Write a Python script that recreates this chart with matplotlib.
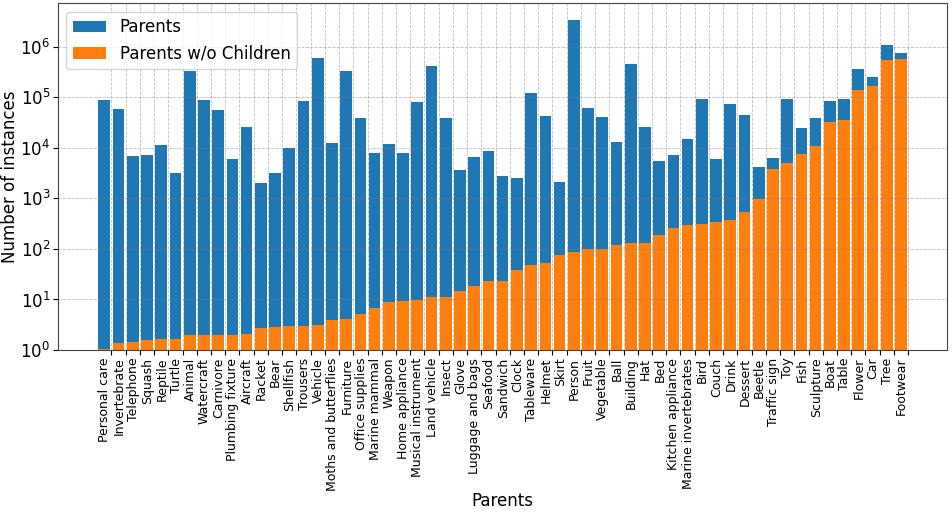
import numpy as np
import matplotlib
matplotlib.use("Agg")
import matplotlib.pyplot as plt

WIDTH, HEIGHT, DPI = 952, 514, 100

# Parent classes, sorted by the number of parents without children.
parents = ["Personal care", "Invertebrate", "Telephone", "Squash", "Reptile", "Turtle",
           "Animal", "Watercraft", "Carnivore", "Plumbing fixture", "Aircraft", "Racket",
           "Bear", "Shellfish", "Trousers", "Vehicle", "Moths and butterflies", "Furniture",
           "Office supplies", "Marine mammal", "Weapon", "Home appliance",
           "Musical instrument", "Land vehicle", "Insect", "Glove", "Luggage and bags",
           "Seafood", "Sandwich", "Clock", "Tableware", "Helmet", "Skirt", "Person",
           "Fruit", "Vegetable", "Ball", "Building", "Hat", "Bed", "Kitchen appliance",
           "Marine invertebrates", "Bird", "Couch", "Drink", "Dessert", "Beetle",
           "Traffic sign", "Toy", "Fish", "Sculpture", "Boat", "Table", "Flower", "Car",
           "Tree", "Footwear"]

# instances of each parent
n_parents = [9.0e4, 5.9e4, 6.9e3, 7.3e3, 1.12e4, 3.2e3,
             3.3e5, 8.9e4, 5.6e4, 5.9e3, 2.6e4, 2.0e3,
             3.2e3, 1.0e4, 8.4e4, 5.9e5, 1.24e4, 3.3e5,
             3.9e4, 7.9e3, 1.19e4, 8.0e3,
             7.9e4, 4.2e5, 3.8e4, 3.6e3, 6.5e3,
             8.5e3, 2.8e3, 2.5e3, 1.2e5, 4.2e4, 2.1e3, 3.4e6,
             6.0e4, 4.1e4, 1.3e4, 4.6e5, 2.6e4, 5.6e3, 7.1e3,
             1.47e4, 9.2e4, 6.1e3, 7.2e4, 4.5e4, 4.1e3,
             6.2e3, 9.1e4, 2.5e4, 3.8e4, 8.4e4, 9.1e4, 3.6e5, 2.5e5,
             1.07e6, 7.4e5]

# instances of each parent that have no children
n_no_children = [1.05, 1.36, 1.44, 1.6, 1.63, 1.67,
                 1.95, 1.95, 1.98, 1.98, 2.07, 2.7,
                 2.9, 3.0, 3.0, 3.1, 4.0, 4.2,
                 5.2, 6.8, 8.8, 9.4,
                 9.9, 11.2, 11.2, 14.7, 18.5,
                 23.2, 23.2, 37.7, 48, 53, 77, 86,
                 101, 101, 119, 132, 132, 185, 256,
                 297, 311, 336, 378, 537, 970,
                 3.76e3, 5.1e3, 7.6e3, 1.1e4, 3.2e4, 3.6e4, 1.4e5, 1.7e5,
                 5.5e5, 5.7e5]

x = np.arange(len(parents))

fig = plt.figure(figsize=(WIDTH/DPI, HEIGHT/DPI), dpi=DPI)
ax = fig.add_subplot(111)
fig.subplots_adjust(left=0.061, right=0.995, top=0.9936, bottom=0.319)

ax.bar(x, n_parents, width=0.82, color="#1f77b4", label="Parents")
ax.bar(x, n_no_children, width=0.82, color="#ff7f0e", label="Parents w/o Children")

ax.set_yscale("log")
ax.set_ylim(1, 7.2e6)

# ticks sit between the bars, labels end at the tick
ax.set_xticks(x + 0.5)
ax.set_xticklabels(parents, rotation=90, ha="right", fontsize=9)
ax.tick_params(axis="y", labelsize=12, pad=2)
ax.tick_params(axis="x", pad=2)
ax.yaxis.set_minor_locator(matplotlib.ticker.NullLocator())

ax.grid(True, linestyle="--", linewidth=0.6, color="gray", alpha=0.5)

ax.set_xlabel("Parents", fontsize=12, labelpad=1)
ax.set_ylabel("Number of instances", fontsize=12, labelpad=1)
ax.legend(loc="upper left", fontsize=12)

for s in ax.spines.values():
    s.set_color("#444444")

plt.savefig("out.png", dpi=DPI)
